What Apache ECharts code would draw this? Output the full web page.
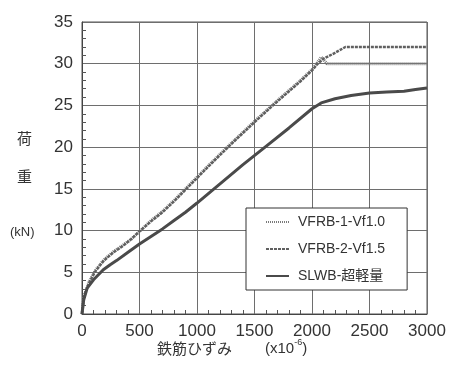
<!DOCTYPE html>
<html>
<head>
<meta charset="utf-8">
<script src="https://cdn.jsdelivr.net/npm/echarts@6/dist/echarts.min.js"></script>
<style>
  html, body { margin: 0; padding: 0; background: #fff; }
  #chart { width: 450px; height: 365px; }
</style>
</head>
<body>
<div id="chart"></div>
<script>
// Load–strain curves of the three beams
const seriesNames = ['VFRB-1-Vf1.0', 'VFRB-2-Vf1.5', 'SLWB-超軽量'];

const strainVfrb1 = [0, 15, 60, 115, 190, 275, 360, 430, 500, 600, 700, 800, 900, 1000, 1100, 1300, 1500, 1700, 1900, 2000, 2050, 2080, 2100, 2130, 2300, 2600, 3000];
const loadVfrb1   = [0, 2.1, 3.8, 5.2, 6.5, 7.5, 8.3, 9.0, 9.9, 11.2, 12.3, 13.6, 15.0, 16.4, 17.8, 20.5, 23.1, 25.6, 28.0, 29.3, 30.2, 30.8, 30.5, 30.0, 30.0, 30.0, 30.0];

const strainVfrb2 = [0, 15, 60, 115, 190, 275, 360, 430, 500, 600, 700, 800, 900, 1000, 1100, 1300, 1500, 1700, 1900, 2000, 2050, 2100, 2200, 2290, 2600, 3000];
const loadVfrb2   = [0, 2.0, 3.7, 5.1, 6.4, 7.4, 8.2, 9.0, 9.9, 11.1, 12.2, 13.5, 14.9, 16.3, 17.7, 20.4, 23.0, 25.5, 27.9, 29.2, 30.0, 30.6, 31.3, 32.0, 32.0, 32.0];

const strainSlwb = [0, 15, 45, 100, 185, 245, 300, 400, 500, 600, 700, 800, 900, 1000, 1200, 1400, 1600, 1800, 2000, 2080, 2200, 2340, 2500, 2650, 2800, 2900, 3000];
const loadSlwb   = [0, 1.7, 3.1, 4.1, 5.3, 5.9, 6.4, 7.4, 8.4, 9.3, 10.2, 11.2, 12.2, 13.3, 15.6, 17.9, 20.1, 22.3, 24.6, 25.3, 25.8, 26.2, 26.5, 26.6, 26.7, 26.9, 27.1];

const yTitleChars = ['荷', '重'];
const yUnit = '(kN)';
const xTitle = '鉄筋ひずみ';

const pairs = (xs, ys) => xs.map((x, i) => [x, ys[i]]);

const latin = '"Liberation Sans", Arial, "Noto Sans CJK JP", sans-serif';

const chart = echarts.init(document.getElementById('chart'), null, { renderer: 'canvas' });

chart.setOption({
  animation: false,
  backgroundColor: '#fff',
  textStyle: { fontFamily: latin },
  grid: {
    left: 82, right: 23, top: 22, bottom: 51,
    show: true, borderColor: '#555', borderWidth: 1
  },
  xAxis: {
    type: 'value', min: 0, max: 3000, interval: 500,
    axisLine: { show: true, onZero: false, lineStyle: { color: '#444', width: 1 } },
    axisTick: { show: false },
    minorTick: { show: true, splitNumber: 5, length: -4, lineStyle: { color: '#555' } },
    axisLabel: { color: '#333', fontSize: 17, margin: 9, fontFamily: latin, formatter: v => String(v) },
    splitLine: { show: true, lineStyle: { color: '#6e6e6e', width: 1 } }
  },
  yAxis: {
    type: 'value', min: 0, max: 35, interval: 5,
    axisLine: { show: true, onZero: false, lineStyle: { color: '#444', width: 1 } },
    axisTick: { show: false },
    minorTick: { show: true, splitNumber: 5, length: -4, lineStyle: { color: '#555' } },
    axisLabel: { color: '#333', fontSize: 17, margin: 9, fontFamily: latin, formatter: v => String(v) },
    splitLine: { show: true, lineStyle: { color: '#6e6e6e', width: 1 } }
  },
  legend: {
    orient: 'vertical',
    left: 246, top: 208,
    padding: [7, 22, 7, 19],
    itemWidth: 23, itemHeight: 14, itemGap: 13,
    backgroundColor: '#fff',
    borderColor: '#333', borderWidth: 1, borderRadius: 0,
    itemStyle: { opacity: 0 },
    textStyle: { color: '#333', fontSize: 14, fontFamily: latin, padding: [0, 0, 0, 4], lineHeight: 14 },
    data: seriesNames
  },
  series: [
    {
      name: seriesNames[0], type: 'line', symbol: 'none', z: 3,
      data: pairs(strainVfrb1, loadVfrb1),
      lineStyle: { color: '#7a7a7a', width: 3, type: [1, 1] },
      itemStyle: { color: '#7a7a7a' }
    },
    {
      name: seriesNames[1], type: 'line', symbol: 'none', z: 4,
      data: pairs(strainVfrb2, loadVfrb2),
      lineStyle: { color: '#606060', width: 2.5, type: [3, 1] },
      itemStyle: { color: '#606060' }
    },
    {
      name: seriesNames[2], type: 'line', symbol: 'none', z: 5,
      data: pairs(strainSlwb, loadSlwb),
      lineStyle: { color: '#4a4a4a', width: 3 },
      itemStyle: { color: '#4a4a4a' }
    }
  ],
  graphic: [
    {
      type: 'text', left: 17, top: 131,
      style: { text: yTitleChars[0], font: '15px "Noto Sans CJK JP", sans-serif', fill: '#333' }
    },
    {
      type: 'text', left: 17, top: 169,
      style: { text: yTitleChars[1], font: '15px "Noto Sans CJK JP", sans-serif', fill: '#333' }
    },
    {
      type: 'text', left: 10, top: 226,
      style: { text: yUnit, font: '13px ' + latin, fill: '#333' }
    },
    {
      type: 'text', left: 157, top: 341,
      style: { text: xTitle, font: '15px "Noto Sans CJK JP", sans-serif', fill: '#333' }
    },
    {
      type: 'text', left: 265, top: 338,
      style: {
        text: '{b|(x10}{s|-6}{b|)}',
        rich: {
          b: { fontSize: 15, fontFamily: latin, fill: '#333', verticalAlign: 'bottom', lineHeight: 18 },
          s: { fontSize: 9, fontFamily: latin, fill: '#333', verticalAlign: 'top', lineHeight: 18, padding: [0, 0, 8, 0] }
        }
      }
    }
  ]
});
</script>
</body>
</html>
